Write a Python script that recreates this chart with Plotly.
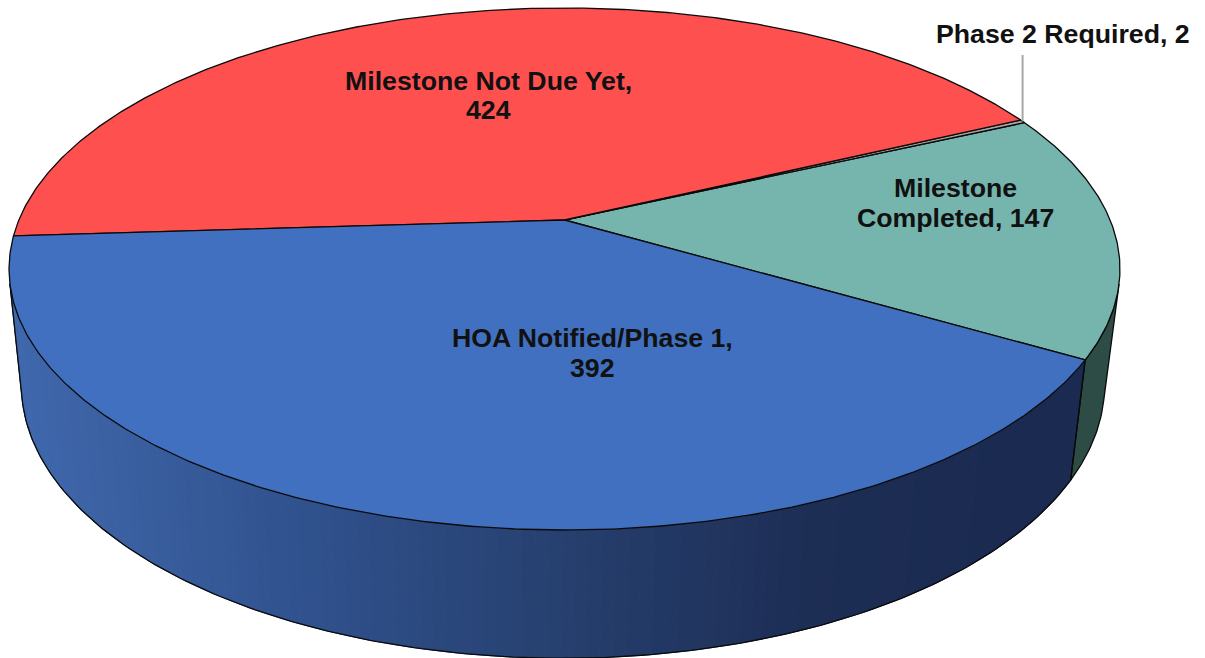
import numpy as np
import plotly.graph_objects as go

categories = ["Milestone Completed", "Phase 2 Required", "Milestone Not Due Yet", "HOA Notified/Phase 1"]
values = [147, 2, 424, 392]
top_colors = ["#76B5AD", "#A6A6A6", "#FF5050", "#4170C0"]
green_side = "#2E4C46"
label_lines = ["Milestone", "Completed, 147", "Phase 2 Required, 2", "Milestone Not Due Yet,", "424",
               "HOA Notified/Phase 1,", "392"]
label_x = [955, 955, 1063, 488, 488, 592, 592]
label_y = [188, 218, 34, 81, 110, 338, 368]

# view of the tilted disc (perspective projection)
CX, K, A, B, C = 564.5, -0.1877, 545.6, 210.5, 220.0
SY, DY, SX, BCX = 1.047, 103.3, 0.975, 563.0
START = 30.2   # screen angle of first slice boundary, degrees
EDGE = 14.0    # where the side's silhouette meets the top rim, degrees
INK = "#0A0A0A"


def top(theta):
    t = np.radians(theta)
    X, Y = np.cos(t), np.sin(t)
    d = 1 + K * Y
    return CX + A * X / d, (B * Y + C) / d


def bottom(theta):
    x, y = top(theta)
    return BCX + (x - CX) * SX, y * SY + DY


def lerp_color(x):
    stops_x = [0, 100, 300, 565, 800, 1000, 1205]
    rgb = [(0x40, 0x69, 0xAF), (0x3C, 0x62, 0xA4), (0x30, 0x52, 0x8E), (0x26, 0x3F, 0x6E),
           (0x1D, 0x2E, 0x55), (0x1A, 0x2A, 0x50), (0x1A, 0x2A, 0x50)]
    c = [int(round(np.interp(x, stops_x, [p[i] for p in rgb]))) for i in range(3)]
    return "rgb(%d,%d,%d)" % tuple(c)


fig = go.Figure()

sweeps = np.array(values) / sum(values) * 360.0
ends = START - np.cumsum(sweeps)
starts = np.concatenate([[START], ends[:-1]])

# side wall: blue part, from the shared edge with green round to the left silhouette
edges = np.linspace(START, 180 - EDGE, 121)
for a0, a1 in zip(edges[:-1], edges[1:]):
    th = np.array([a0, a1])
    xt, yt = top(th)
    xb, yb = bottom(th)
    col = lerp_color(float((xb[0] + xb[1]) / 2))
    fig.add_trace(go.Scatter(x=[xt[0], xt[1], xb[1], xb[0], xt[0]], y=[yt[0], yt[1], yb[1], yb[0], yt[0]],
                             mode="lines", fill="toself", fillcolor=col, line=dict(color=col, width=1),
                             hoverinfo="skip", showlegend=False))

# side wall: green part
th = np.linspace(EDGE, START, 30)
xt, yt = top(th)
xb, yb = bottom(th)
fig.add_trace(go.Scatter(x=np.concatenate([xt, xb[::-1], xt[:1]]), y=np.concatenate([yt, yb[::-1], yt[:1]]),
                         mode="lines", fill="toself", fillcolor=green_side,
                         line=dict(color=INK, width=1.3), hoverinfo="skip", showlegend=False))

# outline of the wall
th = np.linspace(START, 180 - EDGE, 200)
xb, yb = bottom(th)
xt0, yt0 = top(np.array([START]))
xt1, yt1 = top(np.array([180 - EDGE]))
fig.add_trace(go.Scatter(x=np.concatenate([xt0, xb, xt1]), y=np.concatenate([yt0, yb, yt1]),
                         mode="lines", line=dict(color=INK, width=1.3), hoverinfo="skip", showlegend=False))

# top faces
for name, s, e, col in zip(categories, starts, ends, top_colors):
    th = np.linspace(s, e, max(3, int(abs(s - e) * 2)))
    xr, yr = top(th)
    fig.add_trace(go.Scatter(x=np.concatenate([[CX], xr, [CX]]), y=np.concatenate([[C], yr, [C]]),
                             mode="lines", fill="toself", fillcolor=col, name=name,
                             line=dict(color=INK, width=1.3), hoverinfo="name", showlegend=False))

# leader line of the small slice
mid = (starts[1] + ends[1]) / 2
lx, ly = top(np.array([mid]))
fig.add_trace(go.Scatter(x=[lx[0], lx[0]], y=[ly[0], 55], mode="lines",
                         line=dict(color="#A6A6A6", width=2), hoverinfo="skip", showlegend=False))

for txt, x, y in zip(label_lines, label_x, label_y):
    fig.add_annotation(x=x, y=y, xref="x", yref="y", text="<b>%s</b>" % txt, showarrow=False,
                       font=dict(family="Liberation Sans", size=26.7, color="#111111"), align="center")

fig.update_layout(width=1205, height=658, margin=dict(l=0, r=0, t=0, b=0),
                  paper_bgcolor="white", plot_bgcolor="white",
                  xaxis=dict(range=[0, 1205], visible=False, fixedrange=True),
                  yaxis=dict(range=[658, 0], visible=False, fixedrange=True))
fig.write_html("out.html", config=dict(displayModeBar=False),
               post_script="document.body.style.margin='0';")
